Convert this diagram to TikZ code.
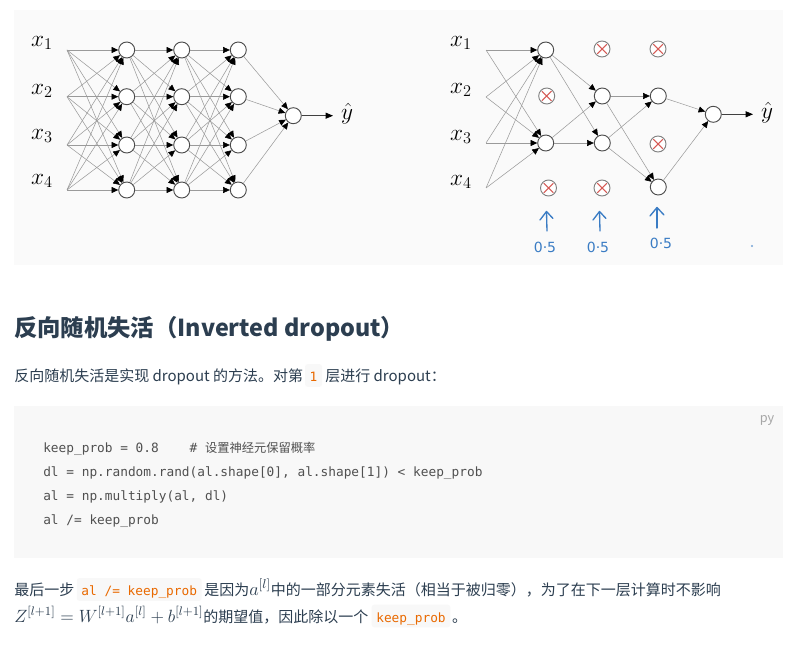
\RequirePackage{fix-cm}
\documentclass[tikz,border=0pt]{standalone}
\usepackage[no-math]{fontspec}
\setmainfont{Noto Sans CJK SC}
\newfontfamily\cjk{Noto Sans CJK SC}
\newfontfamily\codefont{DejaVu Sans Mono}
\newfontfamily\dejavu{DejaVu Sans}
\usetikzlibrary{arrows.meta}
\definecolor{txt}{HTML}{2C3E50}
\definecolor{codebg}{HTML}{F8F8F8}
\definecolor{codetxt}{HTML}{505050}
\definecolor{codeorange}{HTML}{E96900}
\definecolor{imgbg}{HTML}{FAFAFA}
\definecolor{edgegray}{HTML}{9A9A9A}
\definecolor{xred}{HTML}{D65A55}
\definecolor{pen}{HTML}{3A7CC4}
\tikzset{
  neuron/.style={circle,draw=black!70,fill=white,line width=0.7pt,minimum size=12pt,inner sep=0pt},
  dropped/.style={circle,draw=black!50,fill=white,line width=0.7pt,minimum size=12pt,inner sep=0pt,
    path picture={\draw[xred,line width=0.8pt]
      ([xshift=-3.6pt,yshift=-3.6pt]path picture bounding box.center) -- ([xshift=3.6pt,yshift=3.6pt]path picture bounding box.center)
      ([xshift=-3.6pt,yshift=3.6pt]path picture bounding box.center) -- ([xshift=3.6pt,yshift=-3.6pt]path picture bounding box.center);}},
  wire/.style={draw=edgegray,line width=0.4pt,-{Triangle[length=5pt,width=4.5pt,color=black]}},
  outwire/.style={draw=black!75,line width=0.6pt,-{Triangle[length=5.5pt,width=4.5pt,color=black]}},
  varlabel/.style={font=\fontsize{17.5}{21}\selectfont,inner sep=0pt,text=black},
  penline/.style={draw=pen,line width=1pt,line cap=round,line join=round},
  penlabel/.style={font=\dejavu\fontsize{10.5}{12}\selectfont,text=pen,inner sep=0pt},
  para/.style={anchor=base west,inner sep=0pt,text=txt,font=\cjk\fontsize{11.25}{14}\selectfont},
  inlinecode/.style={anchor=base west,fill=codebg,rounded corners=2pt,text=codeorange,
    font=\codefont\fontsize{9.6}{12}\selectfont,inner xsep=3.5pt,inner ysep=0pt,text height=13pt,text depth=4pt},
  codeline/.style={anchor=base west,inner sep=0pt,text=codetxt,font=\codefont\fontsize{9.6}{12}\selectfont}
}
\begin{document}
\begin{tikzpicture}[x=0.75pt,y=-0.75pt]
\useasboundingbox (0,0) rectangle (806,649);
\fill[white] (0,0) rectangle (806,649);
\fill[imgbg] (14,10) rectangle (783,265);

% ---------------- left network ----------------
\foreach \r/\y in {1/50,2/96.7,3/145,4/190}{
  \coordinate (Li\r) at (67,\y);
}
\foreach \c/\x in {1/126.7,2/181.7,3/238.3}{
  \foreach \r/\y in {1/50,2/96.7,3/145,4/190}{
    \node[neuron] (L\c\r) at (\x,\y) {};
  }
}
\node[neuron] (Lo) at (293.3,115.7) {};
\foreach \a in {1,...,4}{
  \foreach \b in {1,...,4}{
    \draw[wire] (Li\a) -- (L1\b);
    \draw[wire] (L1\a) -- (L2\b);
    \draw[wire] (L2\a) -- (L3\b);
  }
  \draw[wire] (L3\a) -- (Lo);
}
\coordinate (Lend) at (333,115.7);
\draw[outwire] (Lo) -- (Lend);
\node[varlabel] (Ly) at (347,114) {$\hat{y}$};
\node[varlabel] (Lx1) at (42,43) {$x_1$};
\node[varlabel] (Lx2) at (42,91) {$x_2$};
\node[varlabel] (Lx3) at (42,136) {$x_3$};
\node[varlabel] (Lx4) at (42,181) {$x_4$};

% ---------------- right network ----------------
\foreach \r/\y in {1/50,2/97,3/143,4/188}{
  \coordinate (Ri\r) at (486,\y);
}
\node[neuron] (R11) at (545.7,50) {};
\node[neuron] (R13) at (545.7,143) {};
\node[neuron] (R22) at (602.3,96) {};
\node[neuron] (R23) at (602.3,143) {};
\node[neuron] (R32) at (658.3,96) {};
\node[neuron] (R34) at (658.3,187) {};
\node[neuron] (Ro) at (713.3,114.3) {};
\node[dropped] (D12) at (546.7,96) {};
\node[dropped] (D14) at (548.5,188) {};
\node[dropped] (D21) at (602,49) {};
\node[dropped] (D24) at (602,188) {};
\node[dropped] (D31) at (658,49) {};
\node[dropped] (D33) at (658,144) {};
\foreach \a in {1,...,4}{
  \draw[wire] (Ri\a) -- (R11);
  \draw[wire] (Ri\a) -- (R13);
}
\foreach \a in {1,3}{\foreach \b in {2,3}{\draw[wire] (R1\a) -- (R2\b);}}
\foreach \a in {2,3}{\foreach \b in {2,4}{\draw[wire] (R2\a) -- (R3\b);}}
\foreach \a in {2,4}{\draw[wire] (R3\a) -- (Ro);}
\coordinate (Rend) at (753,114.3);
\draw[outwire] (Ro) -- (Rend);
\node[varlabel] (Ry) at (767,113) {$\hat{y}$};
\node[varlabel] (Rx1) at (461,43) {$x_1$};
\node[varlabel] (Rx2) at (461,90) {$x_2$};
\node[varlabel] (Rx3) at (461,137) {$x_3$};
\node[varlabel] (Rx4) at (461,182) {$x_4$};

% hand-drawn arrows
\draw[penline] (547,231) .. controls (547.5,222) .. (546.5,212);
\draw[penline] (540,220) -- (546.5,211.5) -- (553,218.5);
\draw[penline] (600,231) .. controls (600.5,222) .. (599.5,212);
\draw[penline] (593,220) -- (599.5,211.5) -- (606,218.5);
\draw[penline] (657,228) .. controls (657.5,218) .. (657,208);
\draw[penline] (650,216) -- (657,207.5) -- (664,215);
\node[penlabel] (h1) at (545,247) {0·5};
\node[penlabel] (h2) at (598,247) {0·5};
\node[penlabel] (h3) at (661,243) {0·5};
\fill[pen!70] (752,246) circle (0.8pt);

% ---------------- heading and paragraph ----------------
\node[anchor=base west,inner sep=0pt,text=txt,font=\cjk\bfseries\fontsize{17.5}{21}\selectfont] (head) at (14,336.5) {反向随机失活（Inverted dropout）};
\node[para] (p1) at (14,381.5) {反向随机失活是实现 dropout 的方法。对第};
\node[inlinecode] (p2) at ([xshift=1pt]p1.base east) {1};
\node[para] (p3) at ([xshift=2pt]p2.base east) {层进行 dropout：};

% ---------------- code block ----------------
\fill[codebg] (14,406) rectangle (783,558);
\node[anchor=center,inner sep=0pt,text=black!35,font=\cjk\fontsize{9.5}{11}\selectfont] (py) at (767,420) {py};
\node[codeline] (k1) at (43,452) {keep\_prob = 0.8\ \ \ \ \# {\cjk\fontsize{9.2}{11}\selectfont 设置神经元保留概率}};
\node[codeline] (k2) at (43,476) {dl = np.random.rand(al.shape[0], al.shape[1]) < keep\_prob};
\node[codeline] (k3) at (43,500) {al = np.multiply(al, dl)};
\node[codeline] (k4) at (43,524) {al /= keep\_prob};

% ---------------- closing text ----------------
\node[para] (b1) at (14,595.5) {最后一步};
\node[inlinecode] (b2) at ([xshift=1.5pt]b1.base east) {al /= keep\_prob};
\node[para] (b3) at ([xshift=1.5pt]b2.base east) {是因为{\fontsize{13.8}{16}\selectfont$a^{[l]}$}中的一部分元素失活（相当于被归零），为了在下一层计算时不影响};
\node[para] (c1) at (14,622) {{\fontsize{13.3}{16}\selectfont$Z^{[l+1]}=W^{[l+1]}a^{[l]}+b^{[l+1]}$}的期望值，因此除以一个};
\node[inlinecode] (c2) at ([xshift=2pt]c1.base east) {keep\_prob};
\node[para] (c3) at ([xshift=1pt]c2.base east) {。};
\end{tikzpicture}
\end{document}
